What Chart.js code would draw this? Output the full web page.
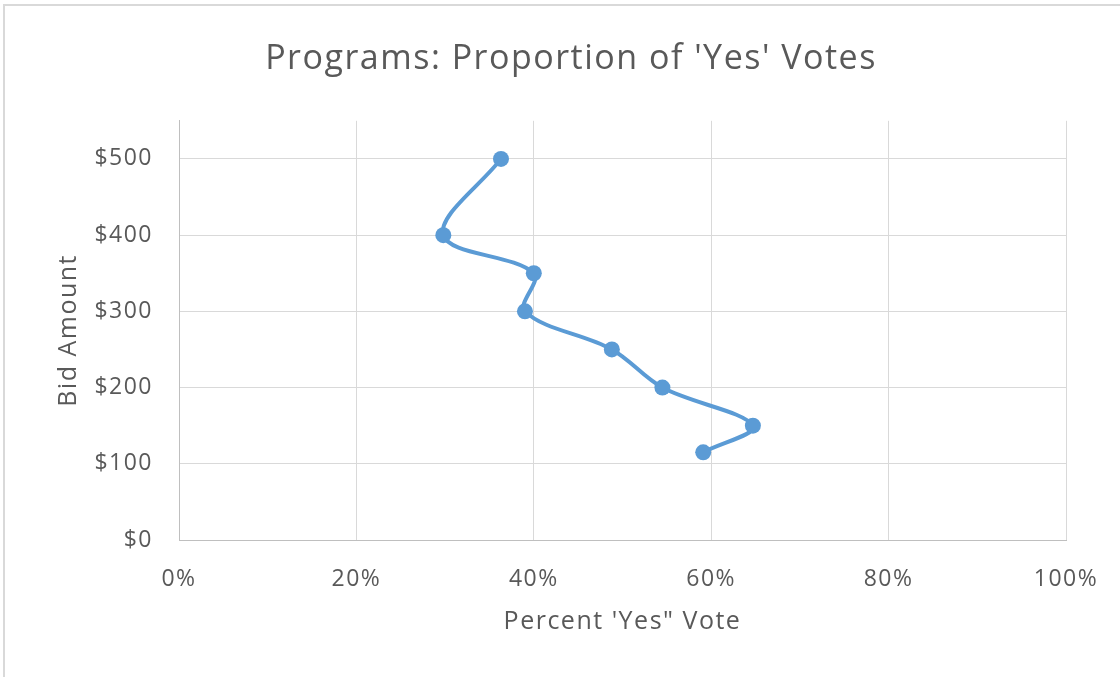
<!DOCTYPE html>
<html>
<head>
<meta charset="utf-8">
<script src="https://cdn.jsdelivr.net/npm/chart.js@4/dist/chart.umd.min.js"></script>
<style>
  html, body { margin: 0; padding: 0; background: #fff; }
  #frame {
    position: absolute; left: 0; top: 0; width: 1120px; height: 677px;
    box-sizing: border-box;
    border-left: 2px solid #d9d9d9; border-top: 2px solid #d9d9d9;
    margin-left: 3px; margin-top: 4px;
  }
  #wrap { position: absolute; left: 0; top: 0; width: 1120px; height: 677px; }
</style>
</head>
<body>
<div id="frame"></div>
<div id="wrap"><canvas id="chart" width="1120" height="677"></canvas></div>
<script>
// Share of 'Yes' votes (%) at each bid amount ($)
const bidAmounts = [500, 400, 350, 300, 250, 200, 150, 115];
const yesPercent = [36.3, 29.8, 40.0, 39.0, 48.8, 54.5, 64.7, 59.1];
const xTickValues = [0, 20, 40, 60, 80, 100];
const yTickValues = [0, 100, 200, 300, 400, 500];

const FONT = "'Open Sans', 'DejaVu Sans', sans-serif";
const TEXT = '#595959';

const points = bidAmounts.map((b, i) => ({ x: yesPercent[i], y: b }));

// Slightly open letter spacing for every label on the canvas
const letterSpacingPlugin = {
  id: 'letterSpacing',
  beforeUpdate(chart) { chart.ctx.letterSpacing = '1.5px'; },
  beforeDraw(chart) { chart.ctx.letterSpacing = '1.5px'; }
};

new Chart(document.getElementById('chart'), {
  type: 'scatter',
  plugins: [letterSpacingPlugin],
  data: {
    datasets: [{
      data: points,
      showLine: true,
      tension: 0.35,
      borderColor: '#5B9BD5',
      backgroundColor: '#5B9BD5',
      borderWidth: 4,
      pointRadius: 8,
      pointHoverRadius: 8,
      pointBorderWidth: 0
    }]
  },
  options: {
    responsive: false,
    animation: false,
    layout: { padding: { left: 22, right: 0, top: 0, bottom: 0 } },
    plugins: {
      legend: { display: false },
      tooltip: { enabled: false },
      title: {
        display: true,
        text: "Programs: Proportion of 'Yes' Votes",
        color: TEXT,
        font: { family: FONT, size: 34, weight: 'normal', lineHeight: 1.2 },
        padding: { top: 39, bottom: 41 }
      }
    },
    scales: {
      x: {
        type: 'linear',
        min: 0, max: 100,
        afterFit: s => { s.height = 137; s.paddingLeft = 0; s.paddingRight = 54; },
        afterBuildTicks: s => { s.ticks = xTickValues.map(v => ({ value: v })); },
        ticks: {
          color: TEXT, padding: 26,
          font: { family: FONT, size: 23 },
          callback: v => v + '%'
        },
        grid: { color: '#d9d9d9', lineWidth: 1, drawTicks: false },
        border: { color: '#bfbfbf', width: 1 },
        title: {
          display: true, text: "Percent 'Yes\" Vote", color: TEXT,
          font: { family: FONT, size: 25, lineHeight: 1.2 },
          padding: { top: 0, bottom: 40 }
        }
      },
      y: {
        type: 'linear',
        min: 0, max: 550,
        afterFit: s => { s.width = 157; s.paddingTop = 0; s.paddingBottom = 0; },
        afterBuildTicks: s => { s.ticks = yTickValues.map(v => ({ value: v })); },
        ticks: {
          color: TEXT, padding: 26,
          font: { family: FONT, size: 23 },
          callback: v => '$' + v
        },
        grid: { color: '#d9d9d9', lineWidth: 1, drawTicks: false },
        border: { color: '#bfbfbf', width: 1 },
        title: {
          display: true, text: 'Bid Amount', color: TEXT,
          font: { family: FONT, size: 25, lineHeight: 1.2 },
          padding: { top: 32, bottom: 0 }
        }
      }
    }
  }
});
</script>
</body>
</html>
